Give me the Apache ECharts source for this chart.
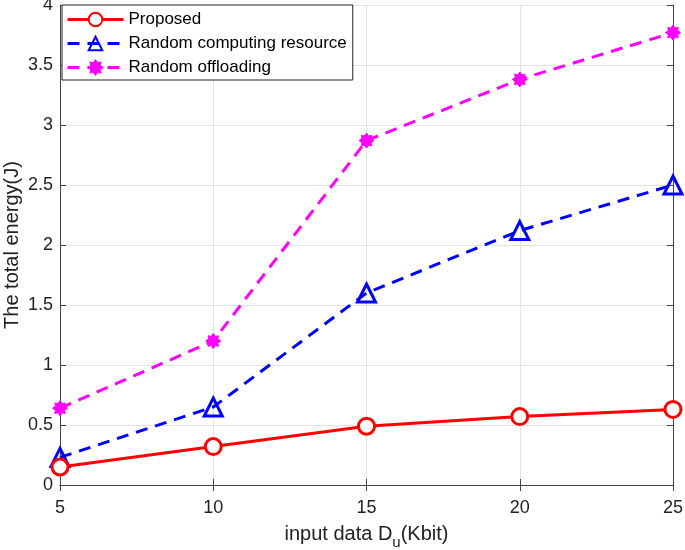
<!DOCTYPE html>
<html>
<head>
<meta charset="utf-8">
<script src="https://cdn.jsdelivr.net/npm/echarts@6/dist/echarts.min.js"></script>
<style>html,body{margin:0;padding:0;background:#fff}#c{width:685px;height:550px}</style>
</head>
<body>
<div id="c"></div>
<script>
const xValues = [5, 10, 15, 20, 25];
const proposed = [0.15, 0.32, 0.49, 0.57, 0.63];
const randomComputing = [0.23, 0.65, 1.6, 2.12, 2.5];
const randomOffloading = [0.64, 1.2, 2.87, 3.38, 3.77];
const seriesNames = ['Proposed', 'Random computing resource', 'Random offloading'];

const star = 'path://M0,-10 L3,-6 L7,-7 L6,-3 L10,0 L6,3 L7,7 L3,6 L0,10 L-3,6 L-7,7 L-6,3 L-10,0 L-6,-3 L-7,-7 L-3,-6 Z';
const font = 'Liberation Sans';
const chart = echarts.init(document.getElementById('c'));
const pairs = a => xValues.map((x, i) => [x, a[i]]);
chart.setOption({
  animation: false,
  textStyle: {fontFamily: font},
  grid: {left: 60, right: 12, top: 5, bottom: 65, outerBoundsMode: 'none', containLabel: false},
  legend: {
    left: 62, top: 5, orient: 'vertical',
    backgroundColor: '#fff', borderColor: '#222', borderWidth: 1,
    padding: [6, 6, 4, 4], itemGap: 7, itemWidth: 56, itemHeight: 17,
    textStyle: {fontSize: 17, color: '#000', fontFamily: font},
    lineStyle: {width: 3},
    data: seriesNames
  },
  xAxis: [{
    type: 'value', min: 5, max: 25, interval: 5,
    name: '{a|input data D}{s|u}{a|(Kbit)}', nameLocation: 'middle', nameGap: 34, nameMoveOverlap: false,
    nameTextStyle: {rich: {a: {fontSize: 20, color: '#222', fontFamily: font}, s: {fontSize: 15, color: '#222', padding: [16, 0, 0, 0], fontFamily: font}}},
    axisLine: {lineStyle: {color: '#444', width: 1}},
    axisTick: {inside: true, length: 6, lineStyle: {color: '#444'}},
    axisLabel: {fontSize: 18, color: '#222', margin: 14},
    splitLine: {show: true, lineStyle: {color: '#e3e3e3'}}
  }, {
    type: 'value', min: 5, max: 25, interval: 5, position: 'top',
    axisLine: {show: true, lineStyle: {color: '#444'}},
    axisTick: {inside: true, length: 6, lineStyle: {color: '#444'}},
    axisLabel: {show: false}, splitLine: {show: false}
  }],
  yAxis: [{
    type: 'value', min: 0, max: 4, interval: 0.5,
    name: 'The total energy(J)', nameLocation: 'middle', nameGap: 38, nameMoveOverlap: false,
    nameTextStyle: {fontSize: 20, color: '#222'},
    axisLine: {show: true, lineStyle: {color: '#444'}},
    axisTick: {show: true, inside: true, length: 6, lineStyle: {color: '#444'}},
    axisLabel: {fontSize: 18, color: '#222', margin: 7},
    splitLine: {show: true, lineStyle: {color: '#e3e3e3'}}
  }, {
    type: 'value', min: 0, max: 4, interval: 0.5, position: 'right',
    axisLine: {show: true, lineStyle: {color: '#444'}},
    axisTick: {show: true, inside: true, length: 6, lineStyle: {color: '#444'}},
    axisLabel: {show: false}, splitLine: {show: false}
  }],
  series: [{
    name: seriesNames[0], type: 'line', data: pairs(proposed),
    symbol: 'circle', symbolSize: 16, showAllSymbol: true,
    lineStyle: {color: '#ff0000', width: 3},
    itemStyle: {color: '#fff', borderColor: '#ff0000', borderWidth: 3},
    z: 4
  }, {
    name: seriesNames[1], type: 'line', data: pairs(randomComputing),
    symbol: 'triangle', symbolSize: 18,
    lineStyle: {color: '#0000ff', width: 3, type: [12, 8]},
    itemStyle: {color: 'rgba(255,255,255,0)', borderColor: '#0000ff', borderWidth: 3},
    z: 3
  }, {
    name: seriesNames[2], type: 'line', data: pairs(randomOffloading),
    symbol: star, symbolSize: 15,
    lineStyle: {color: '#ff00ff', width: 3, type: [12, 8]},
    itemStyle: {color: '#ff00ff', borderColor: '#ff00ff', borderWidth: 1},
    z: 2
  }]
});
</script>
</body>
</html>
